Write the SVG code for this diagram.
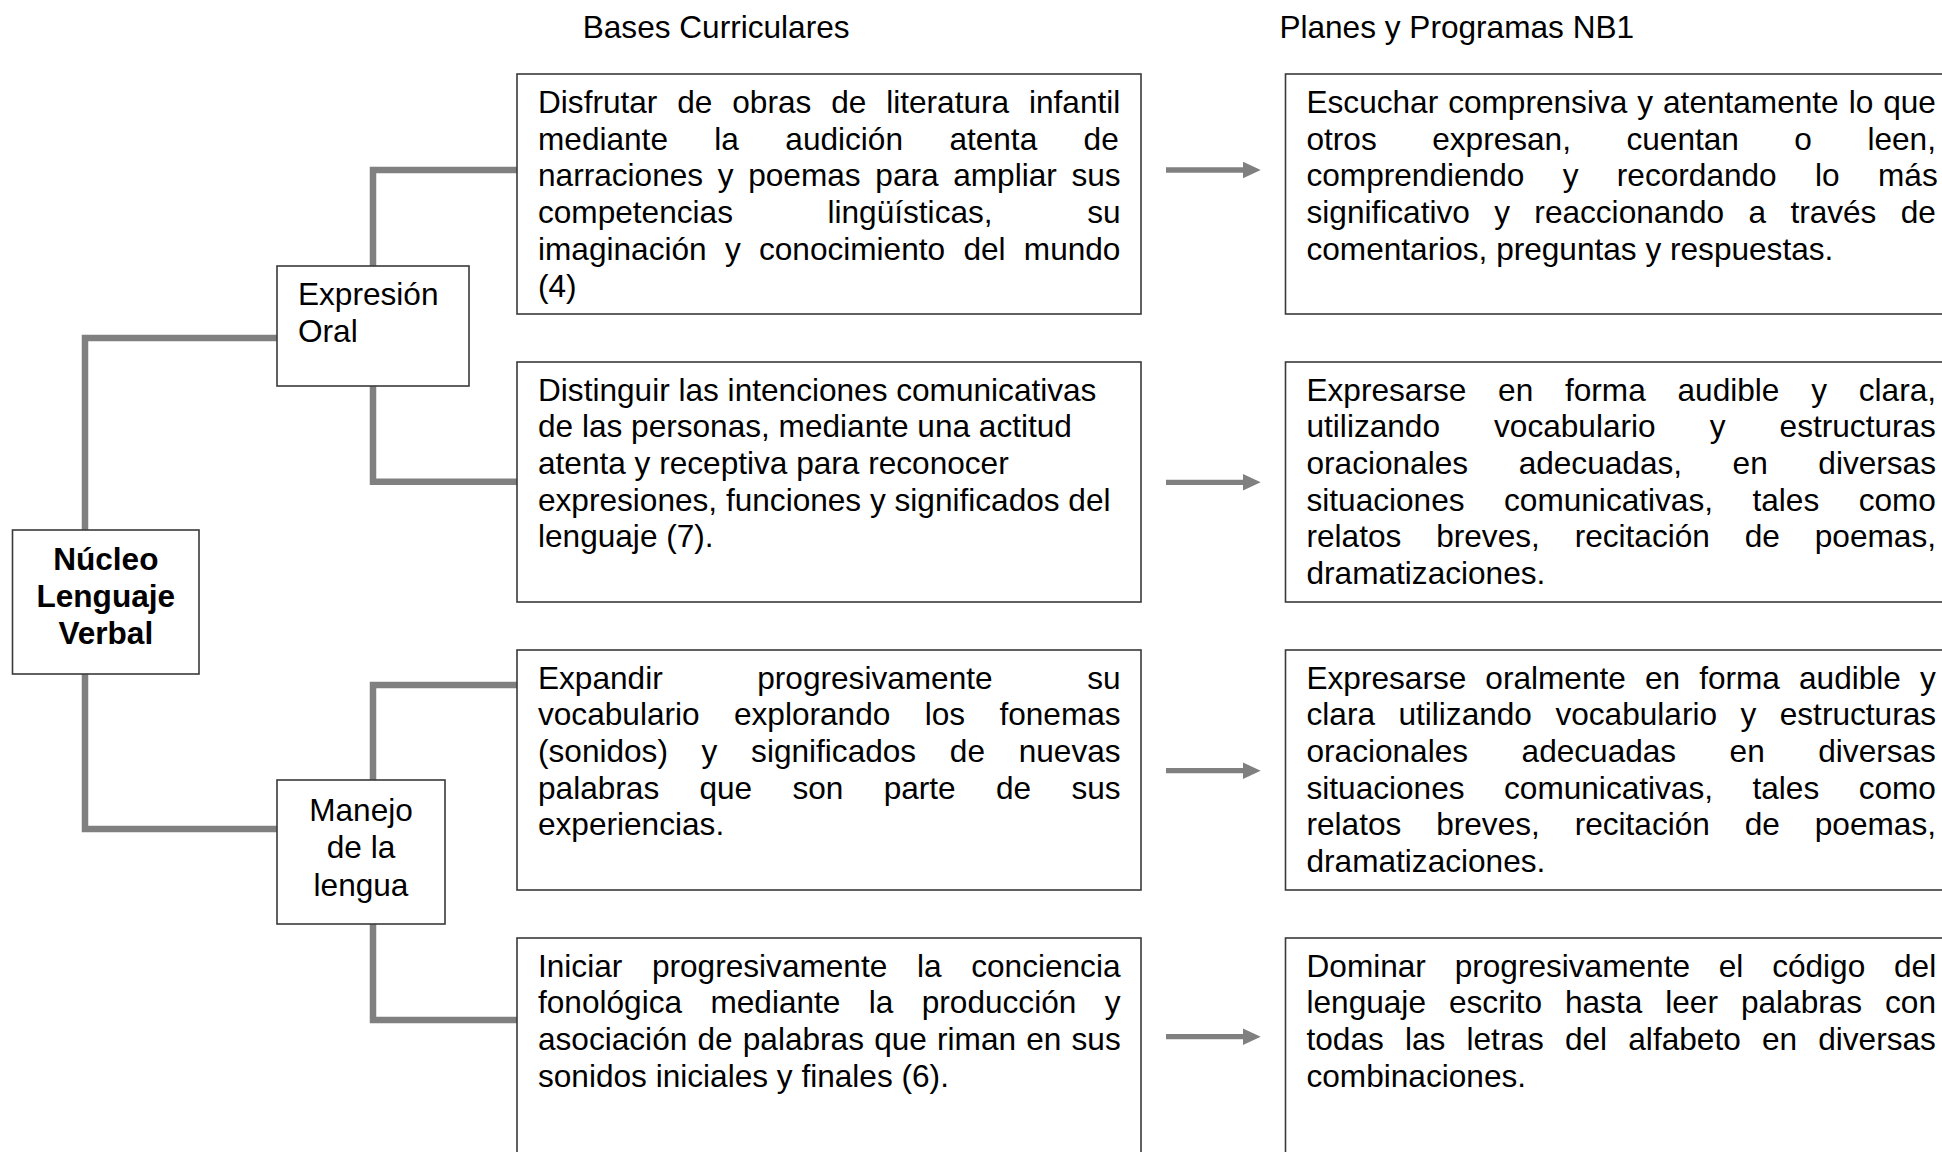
<svg xmlns="http://www.w3.org/2000/svg" width="1942" height="1152" viewBox="0 0 1942 1152">
<style>
.bg{fill:#ffffff}
.box{fill:#ffffff;stroke:#3a3a3a;stroke-width:1.6}
.t{font-family:"Liberation Sans",Arial,sans-serif;font-size:31.6px;fill:#000000}
.b{font-weight:bold;text-anchor:middle}
.c{text-anchor:middle}
.conn{fill:none;stroke:#808080;stroke-width:6.5;stroke-linejoin:miter;stroke-linecap:butt}
.arr{fill:none;stroke:#808080;stroke-width:5.3}
</style>
<defs>
<marker id="ah" markerUnits="userSpaceOnUse" markerWidth="18" markerHeight="17" refX="0" refY="8.3" orient="auto">
<path d="M0,0 L17.7,8.3 L0,16.6 Z" fill="#808080"/>
</marker>
</defs>
<rect class="bg" x="0" y="0" width="1942" height="1152"/>

<g id="headers">
<text class="t" x="582.7" y="38.3">Bases Curriculares</text>
<text class="t" x="1279.4" y="38.3">Planes y Programas NB1</text>
</g>

<g id="connectors">
<path class="conn" d="M277,338 H85 V530"/>
<path class="conn" d="M85,674 V829 H277"/>
<path class="conn" d="M373,266 V170 H517"/>
<path class="conn" d="M373,386 V481.7 H517"/>
<path class="conn" d="M373,780 V685 H517"/>
<path class="conn" d="M373,924 V1020 H517"/>
<line class="arr" x1="1166" y1="170" x2="1243" y2="170" marker-end="url(#ah)"/>
<line class="arr" x1="1166" y1="482.3" x2="1243" y2="482.3" marker-end="url(#ah)"/>
<line class="arr" x1="1166" y1="770.7" x2="1243" y2="770.7" marker-end="url(#ah)"/>
<line class="arr" x1="1166" y1="1036.7" x2="1243" y2="1036.7" marker-end="url(#ah)"/>
</g>

<g id="nucleo">
<rect class="box" x="12.5" y="530" width="186.5" height="144"/>
<text class="t b" x="105.8" y="570">Núcleo</text>
<text class="t b" x="105.8" y="607">Lenguaje</text>
<text class="t b" x="105.8" y="644">Verbal</text>
</g>

<g id="expresion-oral">
<rect class="box" x="277" y="266" width="192" height="120"/>
<text class="t" x="298" y="305">Expresión</text>
<text class="t" x="298" y="341.7">Oral</text>
</g>

<g id="manejo-lengua">
<rect class="box" x="277" y="780" width="168" height="144"/>
<text class="t c" x="361" y="820.5">Manejo</text>
<text class="t c" x="361" y="858">de la</text>
<text class="t c" x="361" y="895.5">lengua</text>
</g>

<g id="bc1">
<rect class="box" x="517" y="74" width="624" height="240"/>
<text class="t" x="538" y="113" word-spacing="11.1">Disfrutar de obras de literatura infantil</text>
<text class="t" x="538" y="149.7" word-spacing="37.6">mediante la audición atenta de</text>
<text class="t" x="538" y="186.4" word-spacing="5.9">narraciones y poemas para ampliar sus</text>
<text class="t" x="538" y="223.1" word-spacing="85.8">competencias lingüísticas, su</text>
<text class="t" x="538" y="259.8" word-spacing="9.5">imaginación y conocimiento del mundo</text>
<text class="t" x="538" y="296.5">(4)</text>
</g>

<g id="bc2">
<rect class="box" x="517" y="362" width="624" height="240"/>
<text class="t" x="538" y="400.5">Distinguir las intenciones comunicativas</text>
<text class="t" x="538" y="437.2">de las personas, mediante una actitud</text>
<text class="t" x="538" y="473.9">atenta y receptiva para reconocer</text>
<text class="t" x="538" y="510.6">expresiones, funciones y significados del</text>
<text class="t" x="538" y="547.3">lenguaje (7).</text>
</g>

<g id="bc3">
<rect class="box" x="517" y="650" width="624" height="240"/>
<text class="t" x="538" y="688.5" word-spacing="85.8">Expandir progresivamente su</text>
<text class="t" x="538" y="725.2" word-spacing="25.6">vocabulario explorando los fonemas</text>
<text class="t" x="538" y="761.9" word-spacing="24.9">(sonidos) y significados de nuevas</text>
<text class="t" x="538" y="798.6" word-spacing="31.5">palabras que son parte de sus</text>
<text class="t" x="538" y="835.3">experiencias.</text>
</g>

<g id="bc4">
<rect class="box" x="517" y="938" width="624" height="240"/>
<text class="t" x="538" y="976.5" word-spacing="20.9">Iniciar progresivamente la conciencia</text>
<text class="t" x="538" y="1013.2" word-spacing="19.6">fonológica mediante la producción y</text>
<text class="t" x="538" y="1049.9" word-spacing="1.4">asociación de palabras que riman en sus</text>
<text class="t" x="538" y="1086.6">sonidos iniciales y finales (6).</text>
</g>

<g id="pp1">
<rect class="box" x="1285.5" y="74" width="700" height="240"/>
<text class="t" x="1306.5" y="113" word-spacing="1.2">Escuchar comprensiva y atentamente lo que</text>
<text class="t" x="1306.5" y="149.7" word-spacing="46.7">otros expresan, cuentan o leen,</text>
<text class="t" x="1306.5" y="186.4" word-spacing="29.6">comprendiendo y recordando lo más</text>
<text class="t" x="1306.5" y="223.1" word-spacing="15.6">significativo y reaccionando a través de</text>
<text class="t" x="1306.5" y="259.8">comentarios, preguntas y respuestas.</text>
</g>

<g id="pp2">
<rect class="box" x="1285.5" y="362" width="700" height="240"/>
<text class="t" x="1306.5" y="400.5" word-spacing="23.0">Expresarse en forma audible y clara,</text>
<text class="t" x="1306.5" y="437.2" word-spacing="45.3">utilizando vocabulario y estructuras</text>
<text class="t" x="1306.5" y="473.9" word-spacing="41.8">oracionales adecuadas, en diversas</text>
<text class="t" x="1306.5" y="510.6" word-spacing="30.7">situaciones comunicativas, tales como</text>
<text class="t" x="1306.5" y="547.3" word-spacing="26.1">relatos breves, recitación de poemas,</text>
<text class="t" x="1306.5" y="584">dramatizaciones.</text>
</g>

<g id="pp3">
<rect class="box" x="1285.5" y="650" width="700" height="240"/>
<text class="t" x="1306.5" y="688.5" word-spacing="10.3">Expresarse oralmente en forma audible y</text>
<text class="t" x="1306.5" y="725.2" word-spacing="14.7">clara utilizando vocabulario y estructuras</text>
<text class="t" x="1306.5" y="761.9" word-spacing="44.7">oracionales adecuadas en diversas</text>
<text class="t" x="1306.5" y="798.6" word-spacing="30.7">situaciones comunicativas, tales como</text>
<text class="t" x="1306.5" y="835.3" word-spacing="26.1">relatos breves, recitación de poemas,</text>
<text class="t" x="1306.5" y="872">dramatizaciones.</text>
</g>

<g id="pp4">
<rect class="box" x="1285.5" y="938" width="700" height="240"/>
<text class="t" x="1306.5" y="976.5" word-spacing="20.0">Dominar progresivamente el código del</text>
<text class="t" x="1306.5" y="1013.2" word-spacing="14.2">lenguaje escrito hasta leer palabras con</text>
<text class="t" x="1306.5" y="1049.9" word-spacing="12.4">todas las letras del alfabeto en diversas</text>
<text class="t" x="1306.5" y="1086.6">combinaciones.</text>
</g>
</svg>
